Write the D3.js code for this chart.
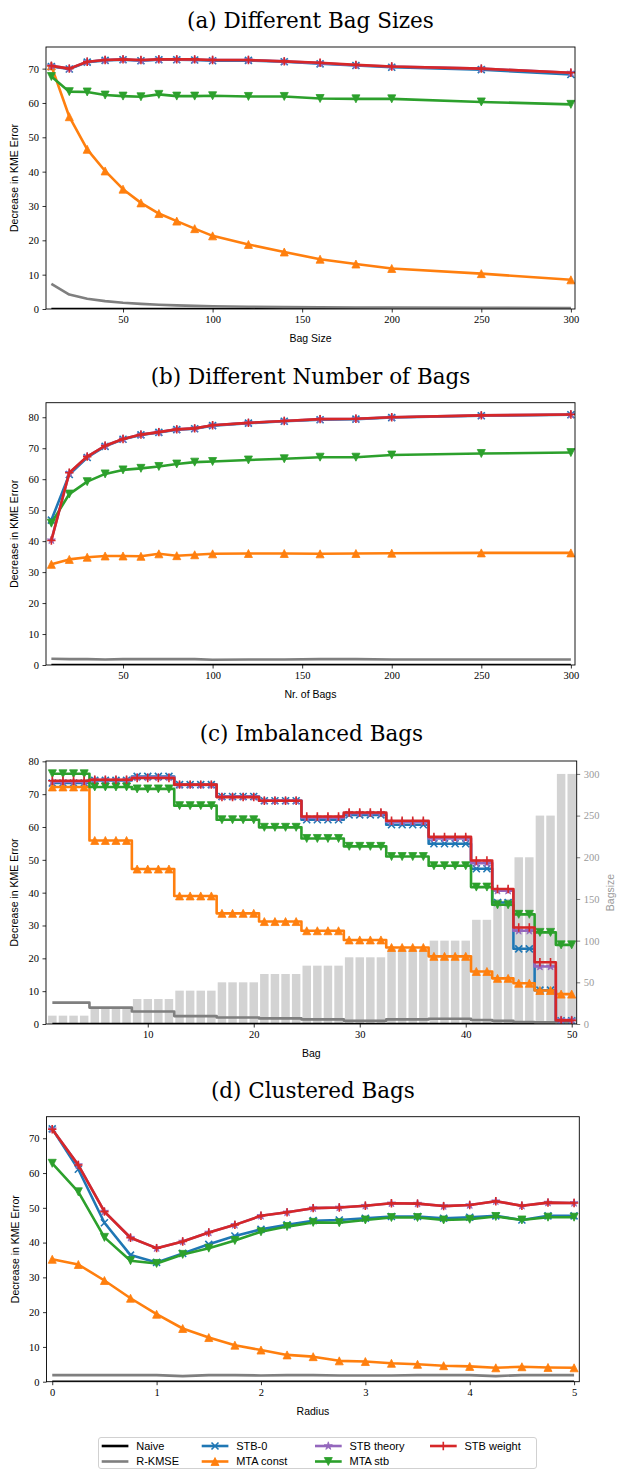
<!DOCTYPE html>
<html><head><meta charset="utf-8">
<script src="https://cdn.jsdelivr.net/npm/d3@7"></script>
<style>body{margin:0;background:#fff}svg{display:block}</style>
</head><body>
<svg id="chart" width="617" height="1471"></svg>
<script>
// ---------- series ----------
const seriesNames = ["Naive","R-KMSE","STB-0","MTA const","STB theory","MTA stb","STB weight"];
const seriesColors = ["#000000","#7f7f7f","#1f77b4","#ff7f0e","#9467bd","#2ca02c","#d62728"];
const seriesMarkers = ["none","none","x","tri-up","star","tri-down","plus"];

// ---------- (a) Different Bag Sizes ----------
const aX = [10,20,30,40,50,60,70,80,90,100,120,140,160,180,200,250,300];
const aNaive = [0,0,0,0,0,0,0,0,0,0,0,0,0,0,0,0,0];
const aRKMSE = [7.3,4.2,3.0,2.3,1.8,1.5,1.25,1.05,0.9,0.8,0.65,0.55,0.5,0.45,0.4,0.35,0.3];
const aSTB0 = [70.6,69.9,71.9,72.4,72.6,72.3,72.6,72.6,72.5,72.3,72.4,72.0,71.4,70.9,70.4,69.7,68.3];
const aMTAconst = [70.8,56.0,46.5,40.2,34.9,30.9,27.8,25.6,23.4,21.3,18.8,16.6,14.5,13.1,11.8,10.3,8.5];
const aSTBtheory = [70.8,70.0,72.0,72.5,72.7,72.4,72.7,72.7,72.6,72.5,72.5,72.1,71.6,71.0,70.6,70.0,68.8];
const aMTAstb = [67.7,63.3,63.2,62.3,62.0,61.8,62.5,62.0,62.0,62.1,61.9,61.9,61.3,61.2,61.2,60.3,59.6];
const aSTBweight = [70.8,70.0,72.0,72.5,72.7,72.5,72.7,72.7,72.7,72.5,72.5,72.1,71.7,71.1,70.6,70.0,68.8];
const aXTicks = [50,100,150,200,250,300];
const aYTicks = [0,10,20,30,40,50,60,70];

// ---------- (b) Different Number of Bags ----------
const bX = [10,20,30,40,50,60,70,80,90,100,120,140,160,180,200,250,300];
const bNaive = [0,0,0,0,0,0,0,0,0,0,0,0,0,0,0,0,0];
const bRKMSE = [2.0,1.9,1.9,1.8,1.9,1.9,1.9,1.9,1.9,1.7,1.8,1.8,1.9,1.9,1.8,1.8,1.8];
const bSTB0 = [46.8,61.5,67.0,70.6,72.9,74.3,75.1,76.0,76.3,77.3,78.1,78.7,79.2,79.4,79.9,80.5,80.8];
const bMTAconst = [32.5,34.1,34.8,35.2,35.2,35.1,35.9,35.3,35.6,35.9,36.0,36.0,35.9,36.0,36.1,36.2,36.2];
const bSTBtheory = [40.3,62.0,67.3,70.8,73.0,74.4,75.2,76.1,76.4,77.4,78.2,78.8,79.4,79.5,80.0,80.6,80.9];
const bMTAstb = [45.8,55.2,59.2,61.7,63.0,63.5,64.1,64.9,65.5,65.7,66.2,66.6,67.1,67.1,67.8,68.3,68.6];
const bSTBweight = [40.2,62.1,67.3,70.8,73.0,74.4,75.2,76.1,76.4,77.4,78.2,78.8,79.4,79.5,80.0,80.6,80.9];
const bXTicks = [50,100,150,200,250,300];
const bYTicks = [0,10,20,30,40,50,60,70,80];

// ---------- (c) Imbalanced Bags ----------
const cX = [1,2,3,4,5,6,7,8,9,10,11,12,13,14,15,16,17,18,19,20,21,22,23,24,25,26,27,28,29,30,31,32,33,34,35,36,37,38,39,40,41,42,43,44,45,46,47,48,49,50];
const cBagsize = [10,10,10,10,20,20,20,20,30,30,30,30,40,40,40,40,50,50,50,50,60,60,60,60,70,70,70,70,80,80,80,80,90,90,90,90,100,100,100,100,125,125,150,150,200,200,250,250,300,300];
const cNaive = [0,0,0,0,0,0,0,0,0,0,0,0,0,0,0,0,0,0,0,0,0,0,0,0,0,0,0,0,0,0,0,0,0,0,0,0,0,0,0,0,0,0,0,0,0,0,0,0,0,0];
const cRKMSE = [6.5,6.5,6.5,6.5,5.0,5.0,5.0,5.0,3.8,3.8,3.8,3.8,2.4,2.4,2.4,2.4,2.0,2.0,2.0,2.0,1.7,1.7,1.7,1.7,1.4,1.4,1.4,1.4,1.0,1.0,1.0,1.0,1.4,1.4,1.4,1.4,1.6,1.6,1.6,1.6,1.2,1.2,1.0,1.0,0.6,0.6,0.5,0.5,0.4,0.4];
const cSTB0 = [73.4,73.4,73.4,73.4,74.2,74.2,74.2,74.2,75.4,75.4,75.4,75.4,72.9,72.9,72.9,72.9,69.3,69.3,69.3,69.3,68.0,68.0,68.0,68.0,62.2,62.2,62.2,62.2,63.7,63.7,63.7,63.7,60.7,60.7,60.7,60.7,54.9,54.9,54.9,54.9,47.3,47.3,37.0,37.0,22.9,22.9,10.3,10.3,1.0,1.0];
const cMTAconst = [72.2,72.2,72.2,72.2,55.9,55.9,55.9,55.9,47.2,47.2,47.2,47.2,39.0,39.0,39.0,39.0,33.7,33.7,33.7,33.7,31.2,31.2,31.2,31.2,28.4,28.4,28.4,28.4,25.6,25.6,25.6,25.6,23.3,23.3,23.3,23.3,20.6,20.6,20.6,20.6,16.0,16.0,13.9,13.9,12.4,12.4,10.2,10.2,9.1,9.1];
const cSTBtheory = [73.8,73.8,73.8,73.8,74.3,74.3,74.3,74.3,75.1,75.1,75.1,75.1,72.8,72.8,72.8,72.8,69.2,69.2,69.2,69.2,68.0,68.0,68.0,68.0,62.8,62.8,62.8,62.8,64.2,64.2,64.2,64.2,61.5,61.5,61.5,61.5,56.5,56.5,56.5,56.5,49.0,49.0,40.6,40.6,28.4,28.4,17.5,17.5,1.2,1.2];
const cMTAstb = [76.2,76.2,76.2,76.2,72.2,72.2,72.2,72.2,71.6,71.6,71.6,71.6,66.5,66.5,66.5,66.5,62.2,62.2,62.2,62.2,59.9,59.9,59.9,59.9,56.5,56.5,56.5,56.5,54.1,54.1,54.1,54.1,51.0,51.0,51.0,51.0,48.2,48.2,48.2,48.2,41.7,41.7,36.3,36.3,33.4,33.4,27.9,27.9,24.1,24.1];
const cSTBweight = [74.1,74.1,74.1,74.1,74.4,74.4,74.4,74.4,74.9,74.9,74.9,74.9,72.9,72.9,72.9,72.9,69.1,69.1,69.1,69.1,68.0,68.0,68.0,68.0,63.2,63.2,63.2,63.2,64.4,64.4,64.4,64.4,61.9,61.9,61.9,61.9,57.0,57.0,57.0,57.0,49.8,49.8,41.1,41.1,29.4,29.4,18.8,18.8,1.1,1.1];
const cXTicks = [10,20,30,40,50];
const cYTicks = [0,10,20,30,40,50,60,70,80];
const cY2Ticks = [0,50,100,150,200,250,300];

// ---------- (d) Clustered Bags ----------
const dX = [0,0.25,0.5,0.75,1,1.25,1.5,1.75,2,2.25,2.5,2.75,3,3.25,3.5,3.75,4,4.25,4.5,4.75,5];
const dNaive = [0,0,0,0,0,0,0,0,0,0,0,0,0,0,0,0,0,0,0,0,0];
const dRKMSE = [1.9,1.9,1.9,1.9,1.9,1.6,1.9,1.9,1.8,1.9,1.9,1.8,1.8,1.8,1.9,1.9,1.9,1.6,1.9,1.9,1.9];
const dSTB0 = [72.7,61.1,45.7,36.4,34.3,36.9,39.5,41.9,43.8,45.1,46.3,46.5,47.0,47.5,47.5,47.0,47.3,47.7,46.5,47.7,47.7];
const dMTAconst = [35.2,33.7,29.1,24.0,19.4,15.3,12.7,10.5,9.1,7.7,7.2,6.0,5.8,5.3,5.0,4.6,4.4,4.0,4.3,4.1,4.0];
const dSTBtheory = [72.6,62.3,48.9,41.4,38.4,40.3,42.9,45.1,47.7,48.7,49.9,50.1,50.6,51.3,51.2,50.5,50.8,51.9,50.6,51.5,51.4];
const dMTAstb = [62.8,54.6,41.5,34.8,34.0,36.6,38.4,40.6,43.1,44.6,45.8,45.7,46.5,47.2,47.2,46.5,46.7,47.5,46.5,47.3,47.3];
const dSTBweight = [72.6,62.3,48.9,41.4,38.4,40.3,42.9,45.1,47.7,48.7,49.9,50.1,50.6,51.3,51.2,50.5,50.8,51.9,50.6,51.5,51.4];
const dXTicks = [0,1,2,3,4,5];
const dYTicks = [0,10,20,30,40,50,60,70];

// ---------- drawing ----------
const svg = d3.select("#chart");
const SERIF = "'DejaVu Serif', serif";
const TICKF = "'Liberation Serif', serif";
const SANS = "'Liberation Sans', sans-serif";

function markerPath(type, r) {
  switch (type) {
    case "x": return `M${-r},${-r}L${r},${r}M${-r},${r}L${r},${-r}`;
    case "plus": return `M${-r*1.2},0L${r*1.2},0M0,${-r*1.2}L0,${r*1.2}`;
    case "tri-up": return `M0,${-r}L${r},${r}L${-r},${r}Z`;
    case "tri-down": return `M0,${r}L${r},${-r}L${-r},${-r}Z`;
    case "star": return d3.symbol(d3.symbolStar, 20)();
  }
  return "";
}
function drawMarker(g, type, color, x, y) {
  if (type === "none") return;
  const filled = (type === "tri-up" || type === "tri-down" || type === "star");
  g.append("path").attr("d", markerPath(type, type === "x" || type === "plus" ? 3.5 : 4))
    .attr("transform", `translate(${x},${y})`)
    .attr("fill", filled ? color : "none")
    .attr("stroke", color).attr("stroke-width", filled ? 0.8 : 1.6);
}

let clipId = 0;
function panel(cfg) {
  const x = d3.scaleLinear().domain(cfg.xDomain).range([cfg.left, cfg.right]);
  const y = d3.scaleLinear().domain(cfg.yDomain).range([cfg.bottom, cfg.top]);
  const g = svg.append("g");
  const id = "clip" + (clipId++);
  svg.append("clipPath").attr("id", id).append("rect")
    .attr("x", cfg.left).attr("y", cfg.top).attr("width", cfg.right - cfg.left).attr("height", cfg.bottom - cfg.top);

  // title
  g.append("text").attr("x", (cfg.left + cfg.right) / 2).attr("y", cfg.titleY)
    .attr("text-anchor", "middle").attr("font-family", SERIF).attr("font-size", 21.5)
    .attr("fill", "#000").text(cfg.title);

  const plot = g.append("g").attr("clip-path", `url(#${id})`);

  // bars (bag sizes)
  if (cfg.bars) {
    const y2 = d3.scaleLinear().domain(cfg.y2Domain).range([cfg.bottom, cfg.top]);
    cfg.y2 = y2;
    const bw = x(0.8) - x(0);
    plot.selectAll("rect.bar").data(cfg.bars).enter().append("rect")
      .attr("x", (d, i) => x(cfg.xs[i]) - bw / 2).attr("width", bw)
      .attr("y", d => y2(d)).attr("height", d => y2(0) - y2(d))
      .attr("fill", "#d3d3d3");
  }

  const line = d3.line().x((d, i) => x(cfg.xs[i])).y(d => y(d));
  if (cfg.step) line.curve(d3.curveStep);
  cfg.series.forEach((vals, si) => {
    plot.append("path").attr("d", line(vals)).attr("fill", "none")
      .attr("stroke", seriesColors[si]).attr("stroke-width", 2.6)
      .attr("stroke-linejoin", "round").attr("stroke-linecap", "butt");
    if (seriesMarkers[si] !== "none") {
      vals.forEach((v, i) => drawMarker(plot, seriesMarkers[si], seriesColors[si], x(cfg.xs[i]), y(v)));
    }
  });

  // axes
  const xAxis = d3.axisBottom(x).tickValues(cfg.xTicks).tickSizeInner(3.5).tickSizeOuter(0).tickPadding(3.5)
    .tickFormat(d3.format("d"));
  const gx = g.append("g").attr("transform", `translate(0,${cfg.bottom})`).call(xAxis);
  const yAxis = d3.axisLeft(y).tickValues(cfg.yTicks).tickSizeInner(3.5).tickSizeOuter(0).tickPadding(3.5);
  const gy = g.append("g").attr("transform", `translate(${cfg.left},0)`).call(yAxis);
  [gx, gy].forEach(a => {
    a.select(".domain").remove();
    a.selectAll("text").attr("font-family", TICKF).attr("font-size", 10.5).attr("fill", "#000");
    a.selectAll("line").attr("stroke", "#000").attr("stroke-width", 0.8);
  });
  if (cfg.bars) {
    const yAxis2 = d3.axisRight(cfg.y2).tickValues(cfg.y2Ticks).tickSizeInner(3.5).tickSizeOuter(0).tickPadding(3.5);
    const gy2 = g.append("g").attr("transform", `translate(${cfg.right},0)`).call(yAxis2);
    gy2.select(".domain").remove();
    gy2.selectAll("text").attr("font-family", TICKF).attr("font-size", 10.5).attr("fill", "#9a9a9a");
    gy2.selectAll("line").attr("stroke", "#555").attr("stroke-width", 0.8);
    g.append("text").attr("transform", `translate(${cfg.right + 37},${(cfg.top + cfg.bottom) / 2}) rotate(-90)`)
      .attr("text-anchor", "middle").attr("font-family", SANS).attr("font-size", 10.5)
      .attr("fill", "#9a9a9a").text("Bagsize");
  }

  // spines
  g.append("rect").attr("x", cfg.left).attr("y", cfg.top)
    .attr("width", cfg.right - cfg.left).attr("height", cfg.bottom - cfg.top)
    .attr("fill", "none").attr("stroke", "#000").attr("stroke-width", 0.9);

  // labels
  g.append("text").attr("x", (cfg.left + cfg.right) / 2).attr("y", cfg.bottom + 33)
    .attr("text-anchor", "middle").attr("font-family", SANS).attr("font-size", 10.5)
    .attr("fill", "#000").text(cfg.xLabel);
  g.append("text").attr("transform", `translate(${cfg.left - 28},${(cfg.top + cfg.bottom) / 2}) rotate(-90)`)
    .attr("text-anchor", "middle").attr("font-family", SANS).attr("font-size", 10.5)
    .attr("fill", "#000").text("Decrease in KME Error");
}

panel({ title: "(a) Different Bag Sizes", titleY: 28, left: 46, right: 575, top: 47, bottom: 309,
  xDomain: [7.0, 302.3], yDomain: [0, 76.3], xs: aX, xTicks: aXTicks, yTicks: aYTicks, xLabel: "Bag Size",
  series: [aNaive, aRKMSE, aSTB0, aMTAconst, aSTBtheory, aMTAstb, aSTBweight] });

panel({ title: "(b) Different Number of Bags", titleY: 384, left: 46, right: 575, top: 402.7, bottom: 665,
  xDomain: [7.0, 302.3], yDomain: [0, 84.7], xs: bX, xTicks: bXTicks, yTicks: bYTicks, xLabel: "Nr. of Bags",
  series: [bNaive, bRKMSE, bSTB0, bMTAconst, bSTBtheory, bMTAstb, bSTBweight] });

panel({ title: "(c) Imbalanced Bags", titleY: 741, left: 46, right: 576.7, top: 761, bottom: 1024,
  xDomain: [0.4, 50.47], yDomain: [0, 80.1], xs: cX, xTicks: cXTicks, yTicks: cYTicks, xLabel: "Bag", step: true,
  bars: cBagsize, y2Domain: [0, 315.5], y2Ticks: cY2Ticks,
  series: [cNaive, cRKMSE, cSTB0, cMTAconst, cSTBtheory, cMTAstb, cSTBweight] });

panel({ title: "(d) Clustered Bags", titleY: 1098, left: 46.5, right: 579.3, top: 1116.7, bottom: 1381.7,
  xDomain: [-0.055, 5.05], yDomain: [0, 76.2], xs: dX, xTicks: dXTicks, yTicks: dYTicks, xLabel: "Radius",
  series: [dNaive, dRKMSE, dSTB0, dMTAconst, dSTBtheory, dMTAstb, dSTBweight] });

// ---------- legend ----------
const leg = svg.append("g");
leg.append("rect").attr("x", 98.5).attr("y", 1437.5).attr("width", 438).attr("height", 31)
  .attr("rx", 2.5).attr("fill", "#fff").attr("stroke", "#cccccc").attr("stroke-width", 0.9);
const legCols = [101.7, 201.7, 315, 430];
const legRows = [1446, 1461.5];
seriesNames.forEach((name, i) => {
  const col = Math.floor(i / 2), row = i % 2;
  const lx = legCols[col], ly = legRows[row];
  leg.append("line").attr("x1", lx).attr("x2", lx + 26.7).attr("y1", ly).attr("y2", ly)
    .attr("stroke", seriesColors[i]).attr("stroke-width", 2.6);
  drawMarker(leg, seriesMarkers[i], seriesColors[i], lx + 13.3, ly);
  leg.append("text").attr("x", lx + 34.5).attr("y", ly + 3.8).attr("font-family", SANS)
    .attr("font-size", 11).attr("fill", "#000").text(name);
});
</script>
</body></html>
